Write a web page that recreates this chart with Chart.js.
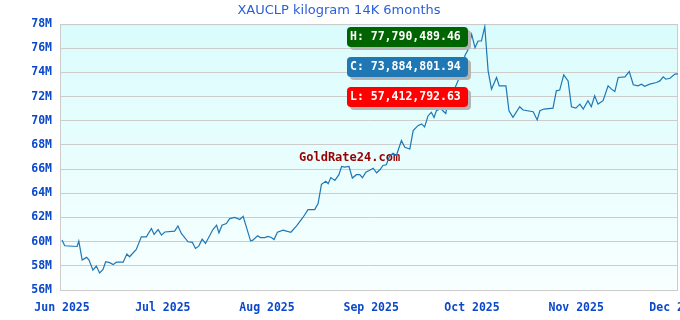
<!DOCTYPE html>
<html lang="en">
<head>
    <meta charset="UTF-8">
    <title>XAUCLP kilogram 14K 6months</title>
    <style>
        html, body { margin: 0; padding: 0; background: #fff; }
        #wrap { width: 680px; height: 320px; }
    </style>
</head>
<body>
    <div id="wrap"><canvas id="myChart" width="680" height="320"></canvas></div>
    <script src="https://cdn.jsdelivr.net/npm/chart.js"></script>
    <script>
        const title = "XAUCLP kilogram 14K 6months";

        // day offsets from 1 Jun 2025
        const days = [0, 0.8, 4.5, 5, 6, 7.3, 8, 9.2, 10.2, 11.2, 12.2, 13, 14.2, 15.2, 16.2, 18.2, 19.3, 20.1, 22.1, 23.6,
            25.1, 26.6, 27.4, 28.6, 29.6, 30.6, 33.5, 34.5, 35.5, 37.5, 38.8, 39.7, 40.7, 41.7, 42.7, 44.9, 46, 46.7, 47.6, 48.9,
            49.9, 51.4, 52.9, 53.9, 56.1, 56.8, 58.2, 59, 60.3, 61.3, 62.3, 63.1, 64.1, 65.8, 66.8, 68.1, 69.8, 71.7, 73.2, 75.2,
            76.2, 77.2, 78.5, 79.2, 80, 81.2, 82.4, 83.2, 84.1, 85.4, 86.4, 87.6, 88.6, 89.4, 90.4, 91.4, 92.6, 93.6, 94.6, 95.5,
            96.5, 97.5, 98.5, 99.5, 101, 102, 103.5, 104.5, 105.9, 107, 107.9, 108.9, 109.9, 110.7, 111.4, 112.7, 114.2, 115.1, 116.3, 117.8,
            119, 119.9, 120.9, 121.9, 122.9, 123.8, 124.8, 125.8, 126.8, 127.8, 129.3, 130.1, 132.1, 133, 134.2, 136.2, 137.2, 140.2, 141.4, 142.2,
            143.4, 146.1, 147.1, 148.1, 149.3, 150.6, 151.6, 152.9, 154.1, 155.1, 156.5, 157.5, 158.5, 159.5, 161, 162.5, 163.5, 164.5, 165.5, 167.5,
            168.8, 170, 171.4, 172.4, 173.4, 174.9, 176.9, 177.9, 178.9, 179.7, 180.9, 182.4, 183.3];

        // price in millions CLP
        const prices = [60.13, 59.66, 59.6, 60.05, 58.48, 58.7, 58.5, 57.65, 57.98, 57.41, 57.7, 58.34, 58.26, 58.1, 58.3, 58.3, 58.97, 58.75, 59.36, 60.4,
            60.4, 61.09, 60.6, 61.0, 60.54, 60.8, 60.87, 61.3, 60.68, 59.99, 59.94, 59.44, 59.63, 60.2, 59.85, 61.0, 61.36, 60.73, 61.36, 61.5,
            61.91, 62.0, 61.83, 62.1, 60.07, 60.12, 60.48, 60.34, 60.34, 60.43, 60.34, 60.18, 60.78, 60.95, 60.87, 60.78, 61.3, 62.0, 62.65, 62.65,
            63.15, 64.74, 65.0, 64.8, 65.3, 65.07, 65.54, 66.22, 66.17, 66.22, 65.26, 65.54, 65.54, 65.29, 65.75, 65.89, 66.08, 65.7, 65.95, 66.3,
            66.36, 67.1, 67.32, 67.13, 68.36, 67.81, 67.67, 69.19, 69.6, 69.74, 69.5, 70.4, 70.7, 70.28, 70.83, 71.0, 70.6, 72.0, 72.3, 73.3,
            73.9, 75.4, 75.92, 77.15, 76.05, 76.6, 76.6, 77.79, 74.13, 72.62, 73.58, 72.89, 72.89, 70.83, 70.28, 71.16, 70.89, 70.75, 70.07, 70.83,
            70.97, 71.05, 72.48, 72.54, 73.8, 73.3, 71.16, 71.05, 71.38, 70.97, 71.66, 71.16, 72.07, 71.38, 71.66, 72.89, 72.62, 72.42, 73.58, 73.63,
            74.07, 72.98, 72.89, 73.03, 72.86, 73.03, 73.17, 73.3, 73.63, 73.44, 73.52, 73.86, 73.88];

        const monthDays = [0, 30, 61, 92, 122, 153, 183];
        const monthLabels = ["Jun 2025", "Jul 2025", "Aug 2025", "Sep 2025", "Oct 2025", "Nov 2025", "Dec 2025"];

        const yTicks = [56, 58, 60, 62, 64, 66, 68, 70, 72, 74, 76, 78];

        const statLabels = ["H: 77,790,489.46", "C: 73,884,801.94", "L: 57,412,792.63"];
        const statColors = ["#006400", "#1f77b4", "#ff0000"];

        const points = days.map((d, i) => ({ x: d, y: prices[i] }));

        const tickFont = { family: "'DejaVu Sans Mono', monospace", size: 11.5, weight: "bold" };

        function roundRect(ctx, x, y, w, h, r) {
            ctx.beginPath();
            ctx.moveTo(x + r, y);
            ctx.lineTo(x + w - r, y);
            ctx.quadraticCurveTo(x + w, y, x + w, y + r);
            ctx.lineTo(x + w, y + h - r);
            ctx.quadraticCurveTo(x + w, y + h, x + w - r, y + h);
            ctx.lineTo(x + r, y + h);
            ctx.quadraticCurveTo(x, y + h, x, y + h - r);
            ctx.lineTo(x, y + r);
            ctx.quadraticCurveTo(x, y, x + r, y);
            ctx.closePath();
        }

        // plot background + watermark under the line
        const backdrop = {
            id: "backdrop",
            beforeDraw(chart) {
                const { ctx, chartArea: a } = chart;
                const g = ctx.createLinearGradient(0, a.top, 0, a.bottom);
                g.addColorStop(0, "#dafcfc");
                g.addColorStop(1, "#f8ffff");
                ctx.save();
                ctx.fillStyle = g;
                ctx.fillRect(a.left, a.top, a.right - a.left, a.bottom - a.top);
                ctx.restore();
            },
            beforeDatasetsDraw(chart) {
                const { ctx, chartArea: a } = chart;
                ctx.save();
                ctx.strokeStyle = "#cccccc";
                ctx.lineWidth = 1;
                ctx.strokeRect(a.left + 0.5, a.top + 0.5, a.right - a.left - 1, a.bottom - a.top);
                ctx.font = "bold 12px 'DejaVu Sans Mono', monospace";
                ctx.fillStyle = "#990000";
                ctx.textAlign = "left";
                ctx.textBaseline = "middle";
                ctx.fillText("GoldRate24.com", 299, 158);
                ctx.restore();
            }
        };

        // H / C / L boxes on top
        const stats = {
            id: "stats",
            afterDatasetsDraw(chart) {
                const { ctx } = chart;
                const x = 347, w = 121, h = 20;
                const tops = [27, 57, 87];
                ctx.save();
                ctx.font = "bold 11.5px 'DejaVu Sans Mono', monospace";
                ctx.textBaseline = "middle";
                ctx.textAlign = "left";
                statLabels.forEach((s, i) => {
                    const y = tops[i];
                    ctx.fillStyle = "#b4b4b4";
                    roundRect(ctx, x + 3, y + 3, w, h, 4);
                    ctx.fill();
                    ctx.fillStyle = statColors[i];
                    roundRect(ctx, x, y, w, h, 4);
                    ctx.fill();
                    ctx.fillStyle = "#ffffff";
                    ctx.fillText(s, x + 3, y + h / 2 + 0.5);
                });
                ctx.restore();
            }
        };

        new Chart(document.getElementById("myChart"), {
            type: "line",
            data: {
                datasets: [{
                    data: points,
                    borderColor: "#1f77b4",
                    borderWidth: 1.2,
                    pointRadius: 0,
                    tension: 0,
                    fill: false
                }]
            },
            options: {
                responsive: false,
                animation: false,
                layout: { padding: { left: 0, right: 2, top: 0, bottom: 0 } },
                plugins: {
                    legend: { display: false },
                    tooltip: { enabled: false },
                    title: {
                        display: true,
                        text: title,
                        color: "#2b5fd9",
                        font: { family: "'DejaVu Sans', sans-serif", size: 13, weight: "normal" },
                        padding: { top: 3, bottom: 5.5 }
                    }
                },
                scales: {
                    x: {
                        type: "linear",
                        min: -0.6,
                        max: 183.3,
                        grid: { display: false, drawTicks: false },
                        border: { display: false },
                        afterBuildTicks(scale) {
                            scale.ticks = monthDays.map(v => ({ value: v }));
                        },
                        afterFit(scale) {
                            scale.height = 30;
                            scale.paddingLeft = 0;
                            scale.paddingRight = 0;
                        },
                        ticks: {
                            autoSkip: false,
                            maxRotation: 0,
                            padding: 11,
                            color: "#0a48cc",
                            font: tickFont,
                            callback: v => monthLabels[monthDays.indexOf(v)]
                        }
                    },
                    y: {
                        min: 56,
                        max: 78,
                        grid: { color: "#cccccc", lineWidth: 1, drawTicks: false },
                        border: { color: "#cccccc" },
                        afterBuildTicks(scale) {
                            scale.ticks = yTicks.map(v => ({ value: v }));
                        },
                        afterFit(scale) {
                            scale.width = 60;
                        },
                        ticks: {
                            padding: 8,
                            color: "#0a48cc",
                            font: tickFont,
                            callback: v => v + "M"
                        }
                    }
                }
            },
            plugins: [backdrop, stats]
        });
    </script>
</body>
</html>
